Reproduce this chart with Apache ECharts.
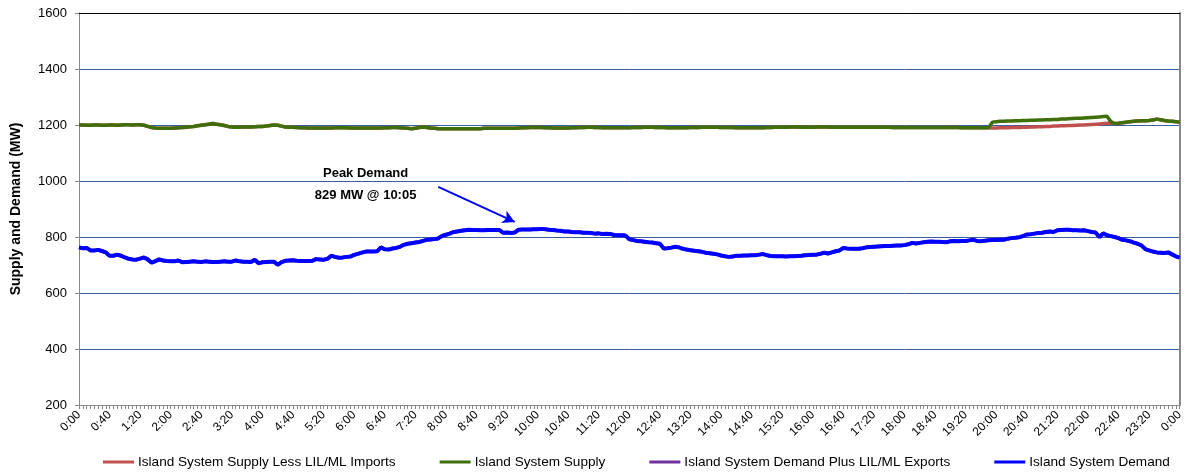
<!DOCTYPE html>
<html>
<head>
<meta charset="utf-8">
<script src="https://cdn.jsdelivr.net/npm/echarts@6/dist/echarts.min.js"></script>
<style>
html,body{margin:0;padding:0;background:#fff;}
#chart{width:1186px;height:473px;}
</style>
</head>
<body>
<div id="chart"></div>
<script>
// Time categories: 5-minute steps from 0:00 to 0:00 (next day)
var categories = [];
for (var i = 0; i <= 288; i++) {
  var m = (i * 5) % 1440;
  var h = Math.floor(m / 60), mm = m % 60;
  categories.push(h + ':' + (mm < 10 ? '0' : '') + mm);
}

var seriesNames = [
  'Island System Supply Less LIL/ML Imports',
  'Island System Supply',
  'Island System Demand Plus LIL/ML Exports',
  'Island System Demand'
];

var supplyLessImports = [
  1200,1200,1199,1199,1200,1200,1199,1199,1200,1200,
  1199,1200,1201,1201,1200,1201,1201,1199,1195,1191,
  1189,1188,1188,1188,1188,1189,1190,1191,1192,1194,
  1195,1197,1199,1201,1203,1205,1203,1201,1198,1195,
  1193,1192,1192,1193,1193,1193,1194,1195,1195,1196,
  1198,1200,1199,1196,1193,1192,1192,1191,1190,1190,
  1189,1189,1189,1189,1189,1189,1189,1190,1190,1190,
  1190,1189,1189,1189,1189,1189,1189,1189,1189,1189,
  1190,1190,1191,1191,1190,1189,1188,1187,1188,1191,
  1193,1191,1189,1188,1187,1187,1187,1187,1187,1187,
  1187,1187,1187,1187,1187,1187,1188,1188,1188,1188,
  1188,1188,1188,1188,1188,1189,1190,1190,1191,1191,
  1191,1191,1190,1190,1189,1189,1189,1189,1189,1190,
  1190,1191,1191,1192,1192,1191,1191,1190,1190,1190,
  1190,1190,1190,1190,1190,1191,1191,1191,1192,1192,
  1192,1191,1191,1191,1190,1190,1190,1190,1190,1190,
  1191,1191,1191,1192,1192,1192,1192,1192,1191,1191,
  1191,1191,1190,1190,1190,1190,1190,1190,1190,1190,
  1191,1191,1192,1192,1192,1192,1193,1193,1193,1192,
  1192,1192,1192,1193,1193,1193,1193,1192,1192,1192,
  1192,1192,1192,1192,1192,1192,1192,1192,1192,1192,
  1192,1192,1192,1191,1191,1191,1191,1191,1191,1191,
  1191,1191,1191,1191,1191,1191,1191,1191,1191,1191,
  1191,1190,1190,1190,1190,1190,1190,1190,1190,1189,
  1189,1190,1190,1190,1191,1191,1191,1192,1192,1193,
  1193,1194,1194,1195,1195,1196,1196,1197,1197,1198,
  1198,1199,1200,1200,1201,1202,1203,1204,1205,1206,
  1206,1205,1206,1208,1210,1212,1213,1214,1215,1215,
  1216,1218,1221,1219,1216,1214,1213,1212,1210
];

var supply = [
  1200,1200,1199,1199,1200,1200,1199,1199,1200,1200,
  1199,1200,1201,1201,1200,1201,1201,1199,1195,1191,
  1189,1188,1188,1188,1188,1189,1190,1191,1192,1194,
  1195,1197,1199,1201,1203,1205,1203,1201,1198,1195,
  1193,1192,1192,1193,1193,1193,1194,1195,1195,1196,
  1198,1200,1199,1196,1193,1192,1192,1191,1190,1190,
  1189,1189,1189,1189,1189,1189,1189,1190,1190,1190,
  1190,1189,1189,1189,1189,1189,1189,1189,1189,1189,
  1190,1190,1191,1191,1190,1189,1188,1187,1188,1191,
  1193,1191,1189,1188,1187,1187,1187,1187,1187,1187,
  1187,1187,1187,1187,1187,1187,1188,1188,1188,1188,
  1188,1188,1188,1188,1188,1189,1190,1190,1191,1191,
  1191,1191,1190,1190,1189,1189,1189,1189,1189,1190,
  1190,1191,1191,1192,1192,1191,1191,1190,1190,1190,
  1190,1190,1190,1190,1190,1191,1191,1191,1192,1192,
  1192,1191,1191,1191,1190,1190,1190,1190,1190,1190,
  1191,1191,1191,1192,1192,1192,1192,1192,1191,1191,
  1191,1191,1190,1190,1190,1190,1190,1190,1190,1190,
  1191,1191,1192,1192,1192,1192,1193,1193,1193,1192,
  1192,1192,1192,1193,1193,1193,1193,1192,1192,1192,
  1192,1192,1192,1192,1192,1192,1192,1192,1192,1192,
  1192,1192,1192,1191,1191,1191,1191,1191,1191,1191,
  1191,1191,1191,1191,1191,1191,1191,1191,1191,1191,
  1191,1190,1190,1190,1190,1190,1190,1190,1190,1210,
  1212,1213,1213,1214,1214,1215,1215,1216,1216,1217,
  1217,1218,1218,1219,1219,1220,1220,1221,1221,1222,
  1223,1224,1224,1225,1226,1227,1228,1229,1230,1231,
  1212,1205,1206,1208,1210,1212,1213,1214,1215,1215,
  1216,1218,1221,1219,1216,1214,1213,1212,1210
];

var demand = [
  763,760,761,752,752,754,750,745,733,733,
  737,733,727,722,720,719,723,727,720,708,
  714,720,716,714,713,713,716,710,711,712,
  713,712,711,713,712,711,711,712,713,712,
  712,716,713,712,712,711,719,706,710,711,
  712,712,701,710,715,716,717,715,714,714,
  714,715,721,720,719,722,733,729,726,727,
  729,730,736,740,744,748,748,748,749,763,
  756,755,759,761,765,772,776,778,780,782,
  786,790,791,793,795,804,808,812,818,820,
  822,824,826,825,825,824,824,825,825,825,
  825,815,816,814,816,826,827,827,827,828,
  828,829,828,826,825,823,822,820,820,818,
  817,817,815,815,814,812,813,811,812,811,
  807,806,806,805,792,789,786,785,783,781,
  780,778,776,759,760,762,765,763,758,755,
  753,751,749,747,744,742,740,738,734,731,
  729,730,733,733,734,734,735,735,737,739,
  735,732,731,731,731,730,731,731,732,733,
  735,736,737,737,740,744,741,745,749,752,
  761,759,758,758,758,760,763,764,765,766,
  767,768,768,769,770,770,771,774,779,777,
  779,781,783,784,783,783,782,781,785,786,
  785,786,786,788,790,786,785,787,788,789,
  789,790,790,794,796,797,799,803,809,810,
  812,814,815,818,820,818,824,825,826,826,
  824,824,823,824,821,818,816,800,813,806,
  803,800,796,790,788,785,780,776,770,757,
  752,748,745,744,743,745,738,731,726
];

// Demand plus exports coincides with demand (hidden beneath it in the reference)
var demandPlusExports = demand;

var FONT = 'Liberation Sans';
var GRID_BLUE = '#3a5f9f';
var chart = echarts.init(document.getElementById('chart'), null, {renderer: 'canvas'});

var option = {
  animation: false,
  backgroundColor: '#ffffff',
  textStyle: {fontFamily: FONT},
  grid: {left: 79, right: 4, top: 13, bottom: 68, containLabel: false},
  legend: {
    top: 450,
    left: 98,
    itemGap: 44,
    itemWidth: 31,
    itemHeight: 3,
    icon: 'rect',
    textStyle: {fontFamily: FONT, fontSize: 13.6, color: '#000', padding: [0, 0, 0, -1]},
    data: seriesNames
  },
  xAxis: [{
    type: 'category',
    data: categories,
    boundaryGap: false,
    axisLine: {lineStyle: {color: '#888', width: 1}},
    axisTick: {show: true, interval: 0, length: 4, lineStyle: {color: '#888'}},
    axisLabel: {
      interval: 7,
      rotate: 45,
      fontFamily: FONT,
      fontSize: 12,
      color: '#000',
      margin: 8
    },
    splitLine: {show: false}
  }, {
    type: 'category',
    data: categories,
    position: 'top',
    boundaryGap: false,
    axisLine: {show: true, lineStyle: {color: '#000', width: 1}},
    axisTick: {show: false},
    axisLabel: {show: false},
    splitLine: {show: false}
  }],
  yAxis: [{
    type: 'value',
    min: 200,
    max: 1600,
    interval: 200,
    name: 'Supply and Demand (MW)',
    nameLocation: 'middle',
    nameRotate: 90,
    nameGap: 56,
    nameTextStyle: {fontFamily: FONT, fontSize: 14, fontWeight: 'bold', color: '#000'},
    axisLine: {show: true, lineStyle: {color: '#888'}},
    axisTick: {show: true, length: 4, lineStyle: {color: '#888'}},
    axisLabel: {
      fontFamily: FONT, fontSize: 13, color: '#000', margin: 12,
      formatter: function (v) { return String(v); }
    },
    splitLine: {show: true, lineStyle: {color: GRID_BLUE, width: 1}}
  }, {
    type: 'value',
    position: 'right',
    min: 200,
    max: 1600,
    interval: 200,
    axisLine: {show: true, lineStyle: {color: '#888', width: 2}},
    axisTick: {show: false},
    axisLabel: {show: false},
    splitLine: {show: false}
  }],
  series: [
    {
      name: seriesNames[0],
      type: 'line',
      data: supplyLessImports,
      showSymbol: false,
      symbol: 'none',
      lineStyle: {color: '#c0504d', width: 3.5},
      itemStyle: {color: '#c0504d'},
      z: 2
    },
    {
      name: seriesNames[1],
      type: 'line',
      data: supply,
      showSymbol: false,
      symbol: 'none',
      lineStyle: {color: '#3f6f0a', width: 3.5},
      itemStyle: {color: '#3f6f0a'},
      z: 3
    },
    {
      name: seriesNames[2],
      type: 'line',
      data: demandPlusExports,
      showSymbol: false,
      symbol: 'none',
      lineStyle: {color: '#7030a0', width: 3.5},
      itemStyle: {color: '#7030a0'},
      z: 4
    },
    {
      name: seriesNames[3],
      type: 'line',
      data: demand,
      showSymbol: false,
      symbol: 'none',
      lineStyle: {color: '#0000ff', width: 4},
      itemStyle: {color: '#0000ff'},
      z: 5,
      markPoint: {
        silent: true,
        symbol: 'circle',
        symbolSize: 1,
        itemStyle: {color: 'rgba(0,0,0,0)'},
        label: {
          show: true,
          position: 'inside',
          formatter: 'Peak Demand\n829 MW @ 10:05',
          fontFamily: FONT,
          fontSize: 13,
          fontWeight: 'bold',
          color: '#000',
          lineHeight: 22,
          align: 'center'
        },
        data: [{coord: ['6:15', 989]}]
      },
      markLine: {
        silent: true,
        symbol: ['none', 'arrow'],
        symbolSize: [10, 12],
        label: {show: false},
        lineStyle: {color: '#0000ff', width: 2, type: 'solid'},
        data: [[{coord: ['7:50', 979]}, {coord: ['9:30', 854]}]]
      }
    }
  ]
};
chart.setOption(option);
</script>
</body>
</html>
